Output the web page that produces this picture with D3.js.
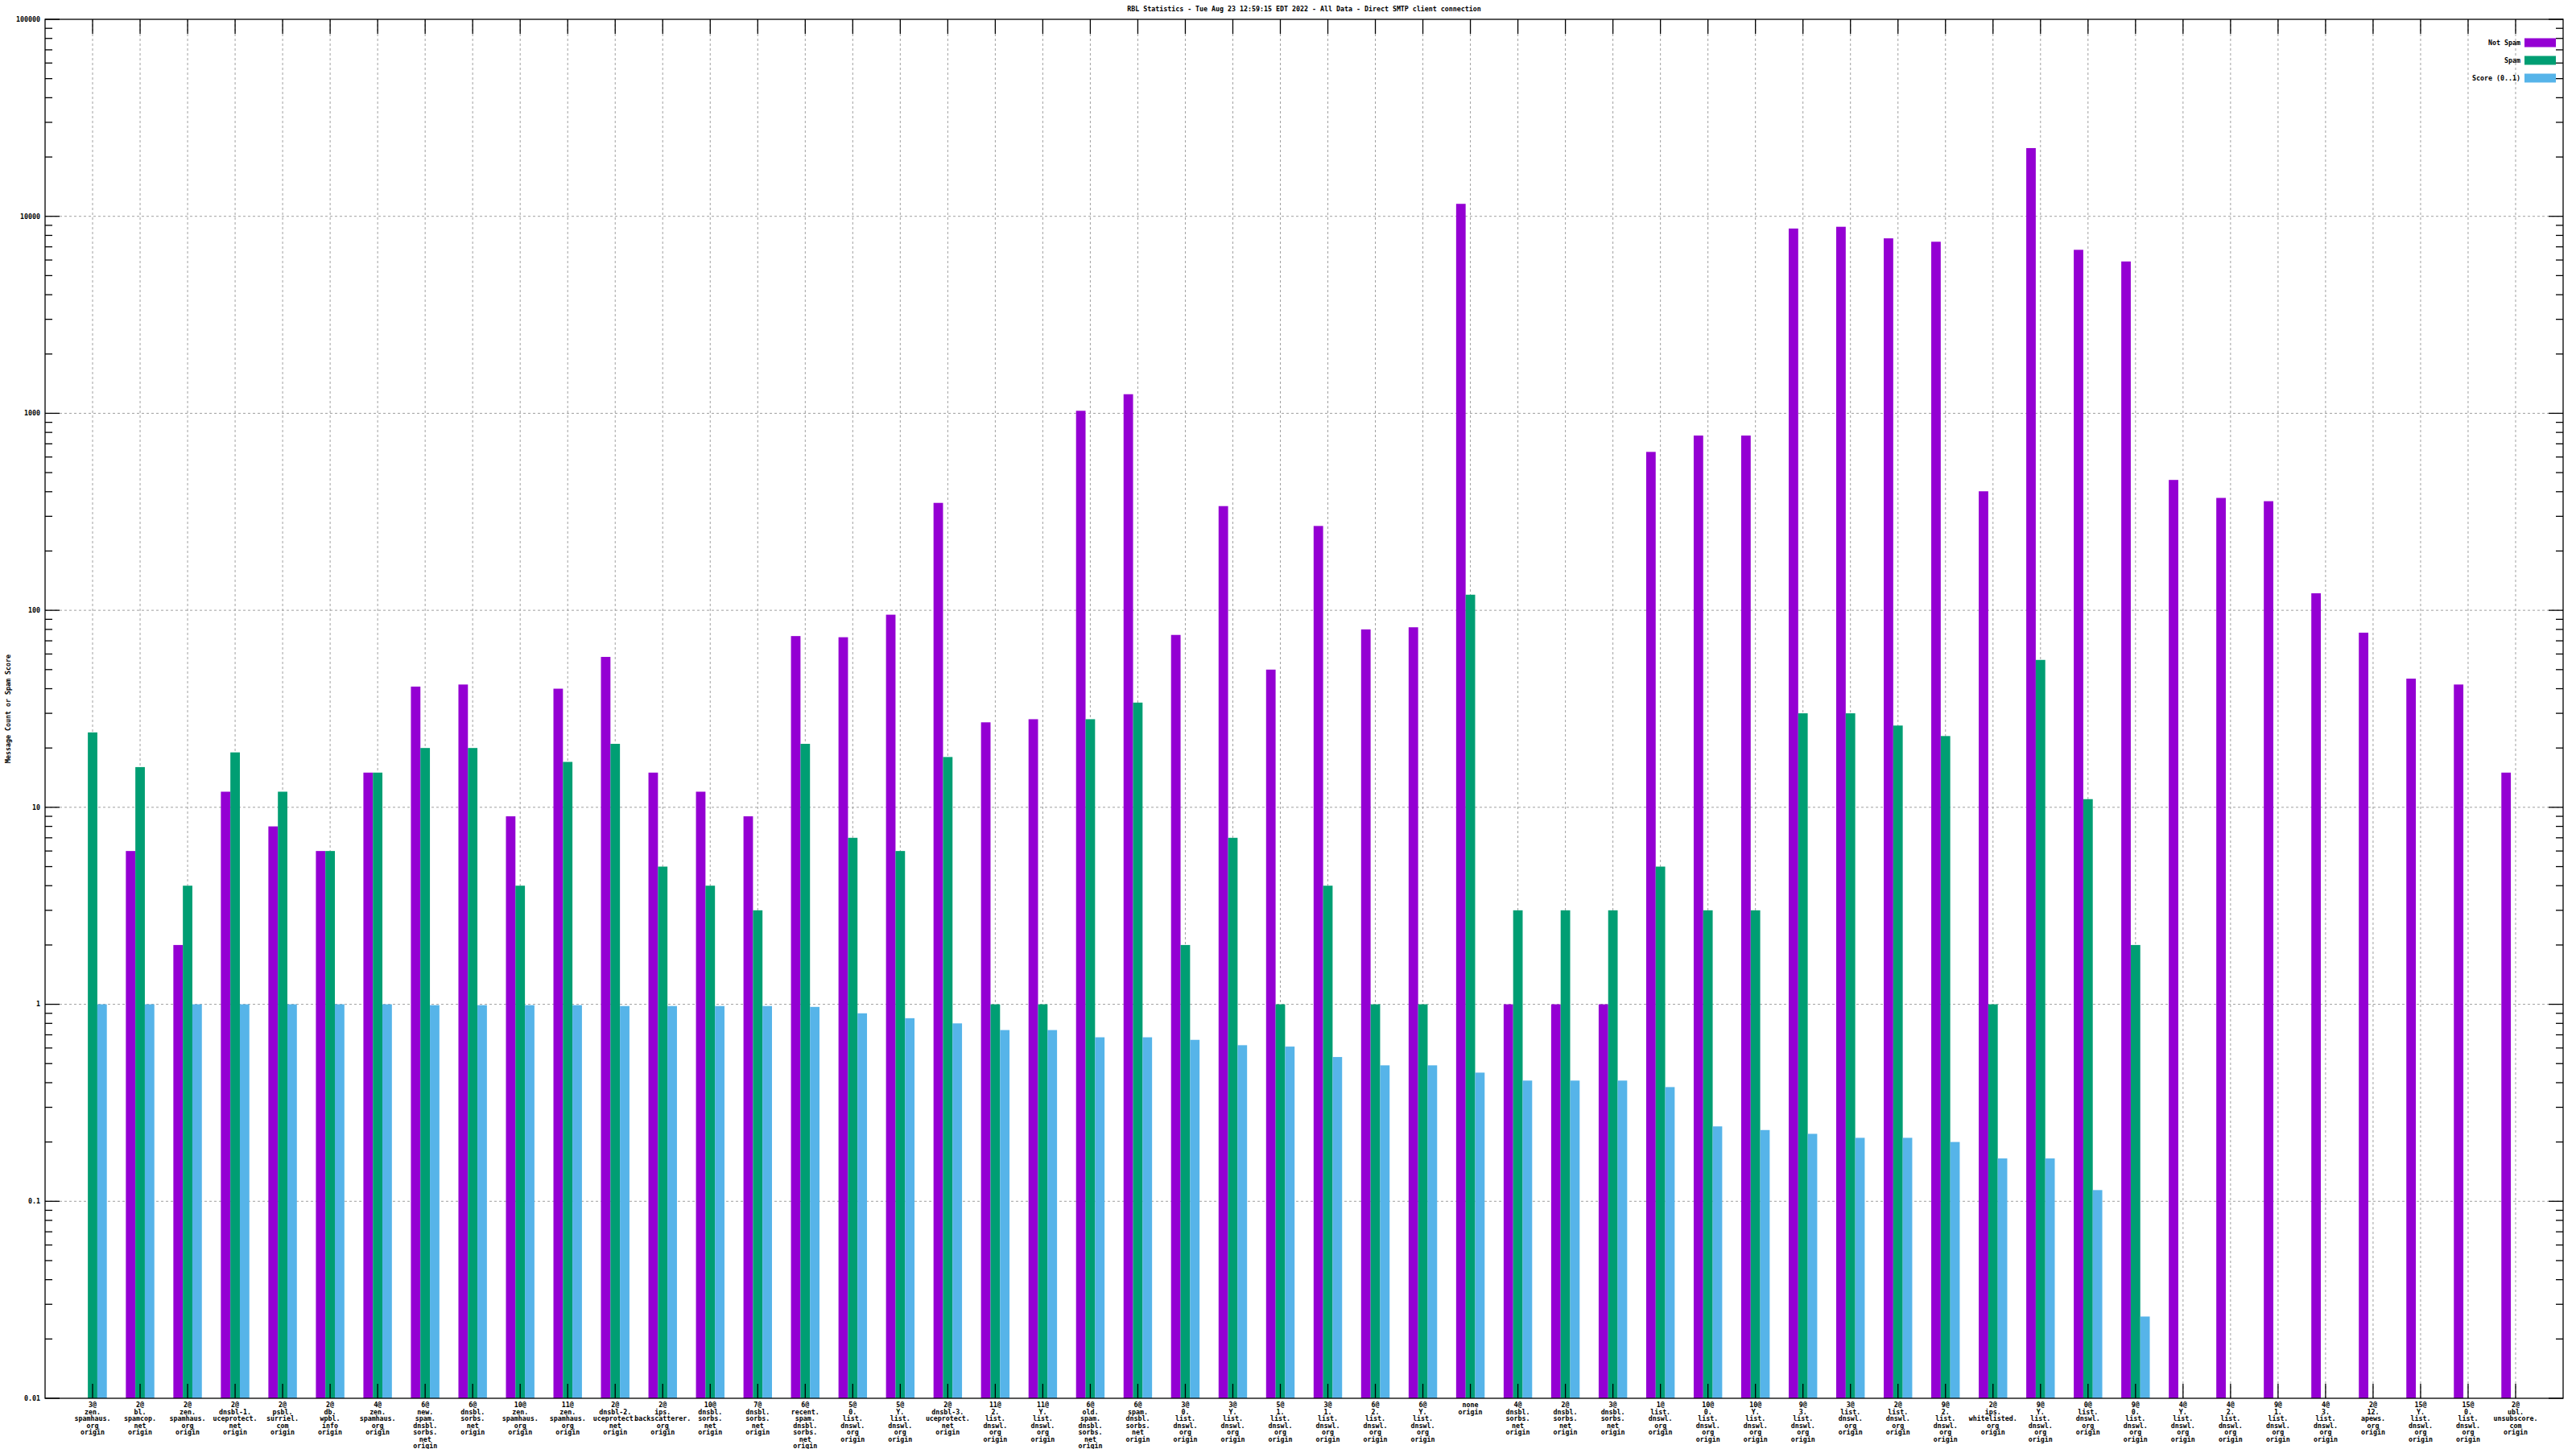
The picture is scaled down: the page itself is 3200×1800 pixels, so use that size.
<!DOCTYPE html>
<html>
<head>
<meta charset="utf-8">
<script src="https://cdn.jsdelivr.net/npm/d3@7"></script>
<style>
  html, body { margin: 0; padding: 0; background: #fff; }
  svg text { font-family: "DejaVu Sans Mono", "Liberation Mono", monospace; fill: #000; font-weight: bold; }
</style>
</head>
<body>
<svg id="chart" width="3200" height="1800"></svg>
<script>
const title = "RBL Statistics - Tue Aug 23 12:59:15 EDT 2022 - All Data - Direct SMTP client connection";
const yLabel = "Message Count or Spam Score";
const seriesNames = ["Not Spam", "Spam", "Score (0..1)"];
const seriesColors = ["#9400D3", "#009E73", "#56B4E9"];

const categories = [
  "3@\nzen.\nspamhaus.\norg\norigin",
  "2@\nbl.\nspamcop.\nnet\norigin",
  "2@\nzen.\nspamhaus.\norg\norigin",
  "2@\ndnsbl-1.\nuceprotect.\nnet\norigin",
  "2@\npsbl.\nsurriel.\ncom\norigin",
  "2@\ndb.\nwpbl.\ninfo\norigin",
  "4@\nzen.\nspamhaus.\norg\norigin",
  "6@\nnew.\nspam.\ndnsbl.\nsorbs.\nnet\norigin",
  "6@\ndnsbl.\nsorbs.\nnet\norigin",
  "10@\nzen.\nspamhaus.\norg\norigin",
  "11@\nzen.\nspamhaus.\norg\norigin",
  "2@\ndnsbl-2.\nuceprotect.\nnet\norigin",
  "2@\nips.\nbackscatterer.\norg\norigin",
  "10@\ndnsbl.\nsorbs.\nnet\norigin",
  "7@\ndnsbl.\nsorbs.\nnet\norigin",
  "6@\nrecent.\nspam.\ndnsbl.\nsorbs.\nnet\norigin",
  "5@\n0.\nlist.\ndnswl.\norg\norigin",
  "5@\nY.\nlist.\ndnswl.\norg\norigin",
  "2@\ndnsbl-3.\nuceprotect.\nnet\norigin",
  "11@\n2.\nlist.\ndnswl.\norg\norigin",
  "11@\nY.\nlist.\ndnswl.\norg\norigin",
  "6@\nold.\nspam.\ndnsbl.\nsorbs.\nnet\norigin",
  "6@\nspam.\ndnsbl.\nsorbs.\nnet\norigin",
  "3@\n0.\nlist.\ndnswl.\norg\norigin",
  "3@\nY.\nlist.\ndnswl.\norg\norigin",
  "5@\n1.\nlist.\ndnswl.\norg\norigin",
  "3@\n1.\nlist.\ndnswl.\norg\norigin",
  "6@\n2.\nlist.\ndnswl.\norg\norigin",
  "6@\nY.\nlist.\ndnswl.\norg\norigin",
  "none\norigin",
  "4@\ndnsbl.\nsorbs.\nnet\norigin",
  "2@\ndnsbl.\nsorbs.\nnet\norigin",
  "3@\ndnsbl.\nsorbs.\nnet\norigin",
  "1@\nlist.\ndnswl.\norg\norigin",
  "10@\n0.\nlist.\ndnswl.\norg\norigin",
  "10@\nY.\nlist.\ndnswl.\norg\norigin",
  "9@\n3.\nlist.\ndnswl.\norg\norigin",
  "3@\nlist.\ndnswl.\norg\norigin",
  "2@\nlist.\ndnswl.\norg\norigin",
  "9@\n2.\nlist.\ndnswl.\norg\norigin",
  "2@\nips.\nwhitelisted.\norg\norigin",
  "9@\nY.\nlist.\ndnswl.\norg\norigin",
  "0@\nlist.\ndnswl.\norg\norigin",
  "9@\n0.\nlist.\ndnswl.\norg\norigin",
  "4@\nY.\nlist.\ndnswl.\norg\norigin",
  "4@\n2.\nlist.\ndnswl.\norg\norigin",
  "9@\n1.\nlist.\ndnswl.\norg\norigin",
  "4@\n3.\nlist.\ndnswl.\norg\norigin",
  "2@\n12.\napews.\norg\norigin",
  "15@\nY.\nlist.\ndnswl.\norg\norigin",
  "15@\n0.\nlist.\ndnswl.\norg\norigin",
  "2@\nubl.\nunsubscore.\ncom\norigin"
];

const notSpam = [0, 6, 2, 12, 8, 6, 15, 41, 42, 9, 40, 58, 15, 12, 9, 74, 73, 95, 351, 27,
  28, 1030, 1250, 75, 338, 50, 268, 80, 82, 11570, 1, 1, 1, 637, 771, 771, 8670, 8850, 7730, 7430,
  402, 22200, 6760, 5900, 459, 372, 358, 122, 77, 45, 42, 15];
const spam = [24, 16, 4, 19, 12, 6, 15, 20, 20, 4, 17, 21, 5, 4, 3, 21, 7, 6, 18, 1,
  1, 28, 34, 2, 7, 1, 4, 1, 1, 120, 3, 3, 3, 5, 3, 3, 30, 30, 26, 23,
  1, 56, 11, 2, 0, 0, 0, 0, 0, 0, 0, 0];
const score = [1, 1, 1, 1, 1, 1, 1, 0.99, 0.99, 0.99, 0.99, 0.98, 0.98, 0.98, 0.98, 0.97, 0.9, 0.85, 0.8, 0.74,
  0.74, 0.68, 0.68, 0.66, 0.62, 0.61, 0.54, 0.49, 0.49, 0.45, 0.41, 0.41, 0.41, 0.38, 0.24, 0.23, 0.22, 0.21, 0.21, 0.2,
  0.165, 0.165, 0.114, 0.026, 0, 0, 0, 0, 0, 0, 0, 0];

const yTickValues = [0.01, 0.1, 1, 10, 100, 1000, 10000, 100000];
const yTickLabels = ["0.01", "0.1", "1", "10", "100", "1000", "10000", "100000"];

const series = [notSpam, spam, score];

const plotLeft = 56, plotRight = 3184, plotTop = 24, plotBottom = 1737;
const fontSize = 8.3;

const svg = d3.select("#chart");

const x = d3.scaleBand().domain(categories.map((c, i) => i)).range([plotLeft, plotRight])
  .paddingInner(0).paddingOuter(0.5);
const step = x.step();
const x1 = d3.scaleBand().domain([0, 1, 2]).range([0.2 * step, 0.8 * step]).padding(0);
const y = d3.scaleLog().domain([0.01, 100000]).range([plotBottom, plotTop]);

const minorVals = [];
for (let e = -2; e < 5; e++) {
  for (let m = 2; m <= 9; m++) minorVals.push(m * Math.pow(10, e));
}

const gridColor = "#a0a0a0";
svg.append("g").selectAll("line").data(yTickValues.slice(1, -1)).join("line")
  .attr("x1", plotLeft).attr("x2", plotRight)
  .attr("y1", d => y(d)).attr("y2", d => y(d))
  .attr("stroke", gridColor).attr("stroke-width", 1).attr("stroke-dasharray", "3,3");
svg.append("g").selectAll("line").data(categories.map((c, i) => i)).join("line")
  .attr("x1", d => x(d) + step / 2).attr("x2", d => x(d) + step / 2)
  .attr("y1", plotTop).attr("y2", plotBottom)
  .attr("stroke", gridColor).attr("stroke-width", 1).attr("stroke-dasharray", "3,3");

series.forEach((vals, s) => {
  svg.append("g").selectAll("rect").data(vals.map((v, i) => ({ v, i })).filter(d => d.v > 0)).join("rect")
    .attr("x", d => x(d.i) + x1(s))
    .attr("width", x1.bandwidth())
    .attr("y", d => y(Math.max(d.v, 0.01)))
    .attr("height", d => plotBottom - y(Math.max(d.v, 0.01)))
    .attr("fill", seriesColors[s]);
});

const tickG = svg.append("g").attr("stroke", "#000").attr("stroke-width", 1.3);
tickG.append("g").selectAll("line").data(yTickValues).join("line")
  .attr("x1", plotLeft).attr("x2", plotLeft + 18).attr("y1", d => y(d)).attr("y2", d => y(d));
tickG.append("g").selectAll("line").data(yTickValues).join("line")
  .attr("x1", plotRight).attr("x2", plotRight - 18).attr("y1", d => y(d)).attr("y2", d => y(d));
tickG.append("g").selectAll("line").data(minorVals).join("line")
  .attr("x1", plotLeft).attr("x2", plotLeft + 9).attr("y1", d => y(d)).attr("y2", d => y(d));
tickG.append("g").selectAll("line").data(minorVals).join("line")
  .attr("x1", plotRight).attr("x2", plotRight - 9).attr("y1", d => y(d)).attr("y2", d => y(d));
tickG.append("g").selectAll("line").data(categories.map((c, i) => i)).join("line")
  .attr("x1", d => x(d) + step / 2).attr("x2", d => x(d) + step / 2)
  .attr("y1", plotBottom).attr("y2", plotBottom - 18);
tickG.append("g").selectAll("line").data(categories.map((c, i) => i)).join("line")
  .attr("x1", d => x(d) + step / 2).attr("x2", d => x(d) + step / 2)
  .attr("y1", plotTop).attr("y2", plotTop + 18);

svg.append("rect").attr("x", plotLeft).attr("y", plotTop)
  .attr("width", plotRight - plotLeft).attr("height", plotBottom - plotTop)
  .attr("fill", "none").attr("stroke", "#000").attr("stroke-width", 1.3);

svg.append("g").selectAll("text").data(yTickValues).join("text")
  .attr("x", plotLeft - 6).attr("y", d => y(d)).attr("dy", "0.35em")
  .attr("text-anchor", "end").attr("font-size", fontSize)
  .text((d, i) => yTickLabels[i]);

const xl = svg.append("g").selectAll("text").data(categories.map((c, i) => ({ c, i }))).join("text")
  .attr("text-anchor", "middle").attr("font-size", fontSize)
  .attr("x", d => x(d.i) + step / 2).attr("y", plotBottom + 11);
xl.each(function (d) {
  const t = d3.select(this);
  d.c.split("\n").forEach((line, k) => {
    t.append("tspan").attr("x", x(d.i) + step / 2).attr("y", plotBottom + 11 + k * 8.57).text(line);
  });
});

svg.append("text").attr("x", (plotLeft + plotRight) / 2).attr("y", 14).attr("text-anchor", "middle")
  .attr("font-size", fontSize).text(title);

svg.append("text").attr("transform", `translate(13,${(plotTop + plotBottom) / 2}) rotate(-90)`)
  .attr("text-anchor", "middle").attr("font-size", fontSize).text(yLabel);

const legend = svg.append("g");
seriesNames.forEach((name, s) => {
  const cy = 53 + s * 22;
  legend.append("text").attr("x", 3131).attr("y", cy).attr("dy", "0.35em")
    .attr("text-anchor", "end").attr("font-size", fontSize).text(name);
  legend.append("rect").attr("x", 3136).attr("y", cy - 5.5).attr("width", 39).attr("height", 11)
    .attr("fill", seriesColors[s]);
});
</script>
</body>
</html>
